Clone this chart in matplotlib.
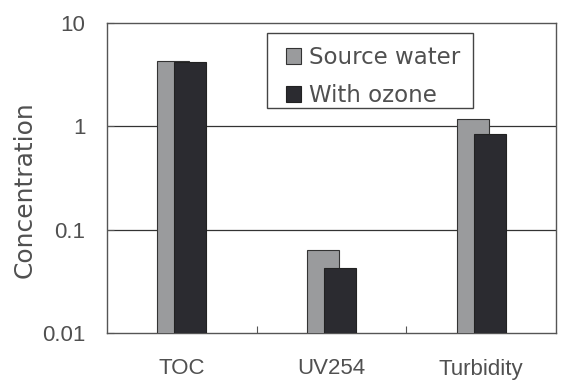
import matplotlib
matplotlib.use("Agg")
import matplotlib.pyplot as plt
import matplotlib.transforms as mtransforms
from matplotlib.patches import Rectangle
import numpy as np

categories = ["TOC", "UV254", "Turbidity"]
source_water = [4.3, 0.0635, 1.18]
with_ozone = [4.17, 0.0428, 0.835]
series_labels = ["Source water", "With ozone"]

plt.rcParams['font.family'] = ['Liberation Sans', 'DejaVu Sans']

fig = plt.figure(figsize=(5.67, 3.80), dpi=100)
W, H = 567, 380
ax = fig.add_axes([107 / W, 1 - 333 / H, (556 - 107) / W, (333 - 23) / H])

x = np.arange(len(categories))
bw = 0.214
off = 0.056
txtc = "#505050"
ax.bar(x - off, source_water, width=bw, color="#9a9b9d", edgecolor="#333333", linewidth=0.8, zorder=3, label=series_labels[0])
ax.bar(x + off, with_ozone, width=bw, color="#2b2b30", edgecolor="#222222", linewidth=0.8, zorder=4, label=series_labels[1])

ax.set_yscale("log")
ax.set_ylim(0.01, 10)
ax.set_xlim(-0.5, 2.5)
ax.set_yticks([0.01, 0.1, 1, 10])
ax.set_yticklabels(["0.01", "0.1", "1", "10"])
ax.yaxis.set_minor_locator(matplotlib.ticker.NullLocator())
for yv in [0.1, 1]:
    ax.axhline(yv, color="#333333", linewidth=0.9, zorder=1)

ax.set_xticks([0.5, 1.5])
ax.set_xticklabels(["", ""])
ax.tick_params(axis="x", direction="in", length=5, color="#555555")
ax.tick_params(axis="y", direction="in", length=5, color="#555555", labelsize=16, labelcolor=txtc, pad=15.5)
pix = mtransforms.Affine2D().scale(1, -1).translate(0, H)
trans = mtransforms.blended_transform_factory(ax.transData, pix)
for i, c in enumerate(categories):
    ax.text(i, 369, c, transform=trans, ha="center", va="center", fontsize=16, color=txtc)

for s in ax.spines.values():
    s.set_color("#555555")
    s.set_linewidth(1.0)

fig.text(25 / W, 1 - 190 / H, "Concentration", rotation=90, ha="center", va="center", fontsize=18,
         color=txtc, family=["DejaVu Sans"])

# legend frame drawn in figure pixel coordinates
frame = Rectangle((267, H - 108), 473 - 267, 108 - 33, transform=mtransforms.IdentityTransform(),
                  facecolor="white", edgecolor="#444444", linewidth=1.0, zorder=10, clip_on=False)
ax.add_artist(frame)

leg = ax.legend(loc="upper left", bbox_to_anchor=(286 / W, 1 - 46 / H), bbox_transform=fig.transFigure,
                frameon=False,
                prop={"family": ["DejaVu Sans"], "size": 16.5},
                handlelength=0.66, handleheight=0.66, handletextpad=0.33, borderpad=0, labelspacing=0.66,
                borderaxespad=0)
leg.set_zorder(11)
for t in leg.get_texts():
    t.set_color(txtc)

fig.savefig("out.png", dpi=100)
